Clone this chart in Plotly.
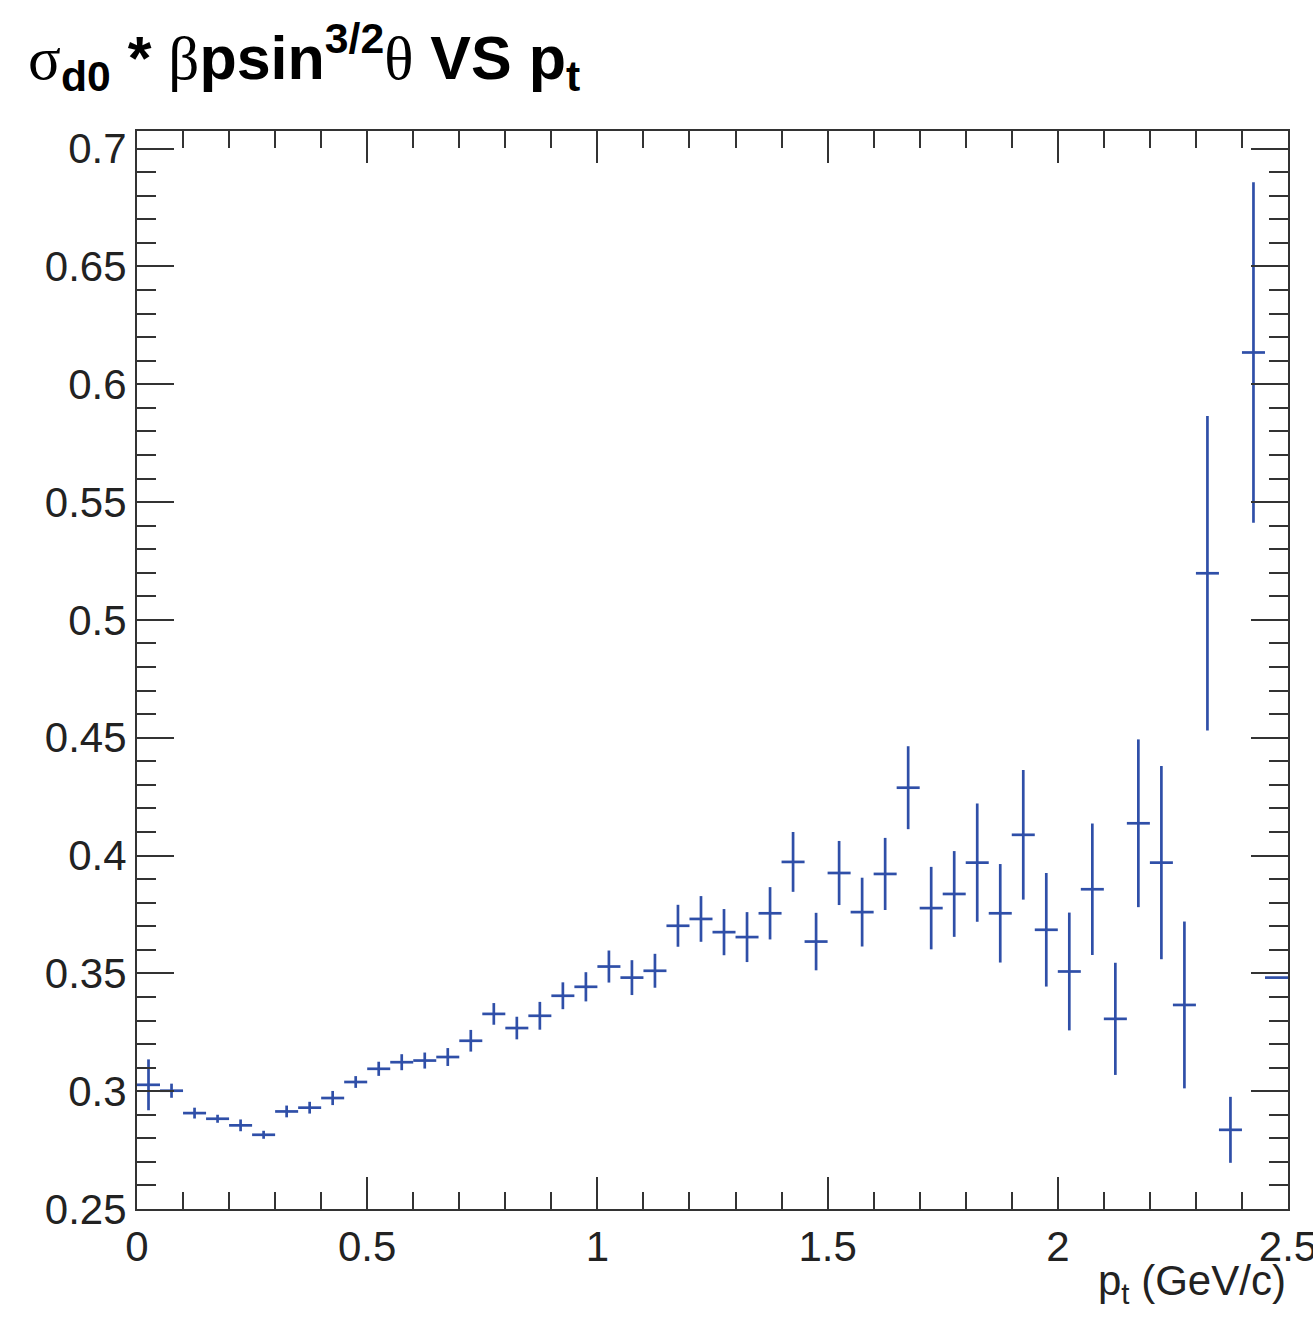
import plotly.graph_objects as go

# bin centres (p_t, GeV/c), 50 bins of width 0.05
pt = [0.025 + 0.05 * i for i in range(50)]
half_width = [0.025] * 50

values = [0.3027, 0.3002, 0.2907, 0.2883, 0.2855, 0.2815, 0.2914, 0.2930, 0.2971, 0.3039,
          0.3095, 0.3123, 0.3130, 0.3145, 0.3214, 0.3328, 0.3268, 0.3320, 0.3405, 0.3443,
          0.3529, 0.3482, 0.3511, 0.3702, 0.3731, 0.3675, 0.3654, 0.3755, 0.3973, 0.3635,
          0.3926, 0.3760, 0.3922, 0.4288, 0.3777, 0.3837, 0.3970, 0.3755, 0.4088, 0.3685,
          0.3508, 0.3857, 0.3307, 0.4137, 0.3970, 0.3366, 0.5198, 0.2836, 0.6135, 0.3482]

errors = [0.0108, 0.0030, 0.0023, 0.0017, 0.0025, 0.0017, 0.0025, 0.0025, 0.0030, 0.0025,
          0.0030, 0.0034, 0.0034, 0.0038, 0.0046, 0.0046, 0.0048, 0.0059, 0.0057, 0.0062,
          0.0068, 0.0074, 0.0072, 0.0089, 0.0097, 0.0098, 0.0106, 0.0111, 0.0127, 0.0122,
          0.0136, 0.0146, 0.0153, 0.0176, 0.0175, 0.0182, 0.0251, 0.0209, 0.0275, 0.0241,
          0.0250, 0.0279, 0.0238, 0.0356, 0.0410, 0.0354, 0.0667, 0.0140, 0.0723, 0.0]

x_ticks = [0, 0.5, 1, 1.5, 2, 2.5]
y_ticks = [0.25, 0.3, 0.35, 0.4, 0.45, 0.5, 0.55, 0.6, 0.65, 0.7]

COL = "#2f4fa8"
AX = "#333333"
FONT = "Liberation Sans, Arial, sans-serif"

fig = go.Figure()
fig.add_trace(go.Scatter(
    x=pt, y=values, mode="markers",
    marker=dict(size=0.1, color=COL, opacity=0),
    error_x=dict(type="data", array=half_width, width=0, thickness=2.7, color=COL),
    error_y=dict(type="data", array=errors, width=0, thickness=2.7, color=COL),
    showlegend=False, hoverinfo="x+y",
))

fig.update_layout(
    width=1313, height=1321,
    margin=dict(l=137, r=25, t=131, b=112, autoexpand=False),
    paper_bgcolor="white", plot_bgcolor="white",
    font=dict(family=FONT, color="black"),
    xaxis=dict(
        range=[0, 2.5], tickvals=x_ticks, ticktext=[f"{v:g}" for v in x_ticks],
        ticks="inside", ticklen=32, tickwidth=2, tickcolor=AX,
        minor=dict(dtick=0.1, tick0=0, ticks="inside", ticklen=17, tickwidth=2, tickcolor=AX),
        showline=True, linecolor=AX, linewidth=2, mirror="ticks",
        showgrid=False, zeroline=False, automargin=False,
        tickfont=dict(size=42, family=FONT, color="#222"),
        ticklabelstandoff=0, ticklabeloverflow="allow",
    ),
    yaxis=dict(
        range=[0.25, 0.7075], tickvals=y_ticks, ticktext=[f"{v:g}" for v in y_ticks],
        ticks="inside", ticklen=37, tickwidth=2, tickcolor=AX,
        minor=dict(dtick=0.01, tick0=0.25, ticks="inside", ticklen=19, tickwidth=2, tickcolor=AX),
        showline=True, linecolor=AX, linewidth=2, mirror="ticks",
        showgrid=False, zeroline=False, automargin=False,
        tickfont=dict(size=42, family=FONT, color="#222"),
        ticklabelstandoff=0, ticklabeloverflow="allow",
    ),
)

# title
fig.add_annotation(
    xref="paper", yref="paper", x=(26 - 137) / 1151, y=1 + (131 - 57) / 1078,
    xanchor="left", yanchor="middle", showarrow=False,
    text=("<span style='font-family:Liberation Serif'>σ</span><b><sub>d0</sub> * </b>"
          "<span style='font-family:Liberation Serif'>β</span><b>psin<sup>3/2</sup></b>"
          "<span style='font-family:Liberation Serif'>θ</span><b> VS p<sub>t</sub></b>"),
    font=dict(size=61, family=FONT, color="black"),
)

# x-axis title (right aligned, ROOT style)
fig.add_annotation(
    xref="paper", yref="paper", x=1, y=0, yshift=-46,
    xanchor="right", yanchor="top", showarrow=False,
    text="p<sub>t</sub> (GeV/c)",
    font=dict(size=42, family=FONT, color="#222"),
)

fig.write_html("out.html")
